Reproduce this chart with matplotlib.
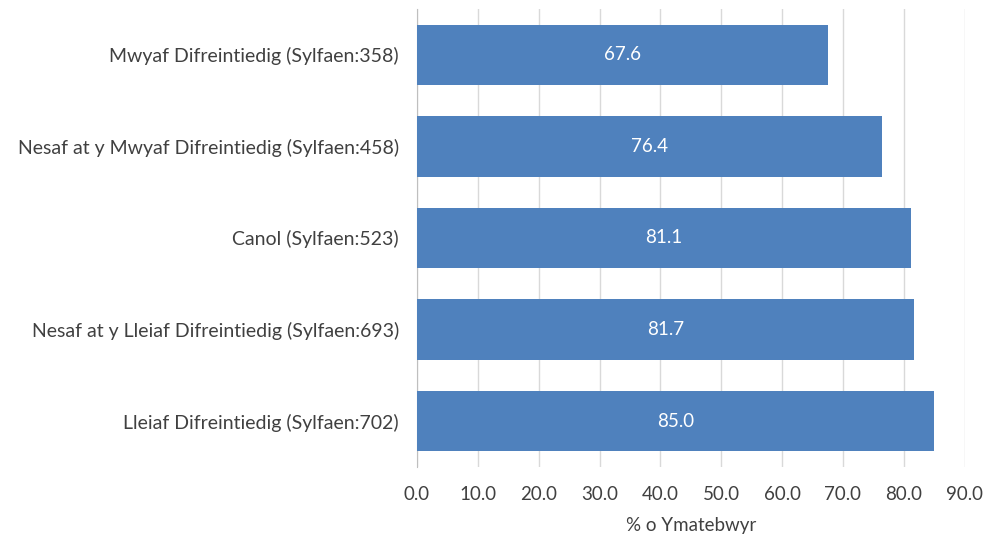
import numpy as np
import matplotlib.pyplot as plt

plt.rcParams['font.family'] = ['Lato', 'DejaVu Sans']

categories = [
    'Mwyaf Difreintiedig (Sylfaen:358)',
    'Nesaf at y Mwyaf Difreintiedig (Sylfaen:458)',
    'Canol (Sylfaen:523)',
    'Nesaf at y Lleiaf Difreintiedig (Sylfaen:693)',
    'Lleiaf Difreintiedig (Sylfaen:702)',
]
values = [67.6, 76.4, 81.1, 81.7, 85.0]
xticks = [0, 10, 20, 30, 40, 50, 60, 70, 80, 90]

fig = plt.figure(figsize=(10.07, 5.39), dpi=100)
ax = fig.add_axes([0.414, 0.134, 0.544, 0.849])

y = np.arange(len(categories))
bars = ax.barh(y, values, height=0.66, color='#4F81BD', zorder=3)
for b, v in zip(bars, values):
    ax.text(v / 2, b.get_y() + b.get_height() / 2, f'{v:.1f}',
            ha='center', va='center', color='white', fontsize=13.5, zorder=4)

ax.set_yticks(y)
ax.set_yticklabels(categories, fontsize=14, color='#404040')
ax.set_ylim(len(categories) - 0.5, -0.5)
ax.set_xlim(0, 90)
ax.set_xticks(xticks)
ax.set_xticklabels([f'{t:.1f}' for t in xticks], fontsize=13.5, color='#404040')
ax.set_xlabel('% o Ymatebwyr', fontsize=13.5, color='#404040', labelpad=10)
ax.tick_params(axis='y', length=0, pad=13)
ax.tick_params(axis='x', length=0, pad=14)
ax.grid(axis='x', color='#D9D9D9', linewidth=1, zorder=0)
for s in ['top', 'right', 'bottom']:
    ax.spines[s].set_visible(False)
ax.spines['left'].set_color('#BFBFBF')

fig.savefig('out.png', dpi=100)
